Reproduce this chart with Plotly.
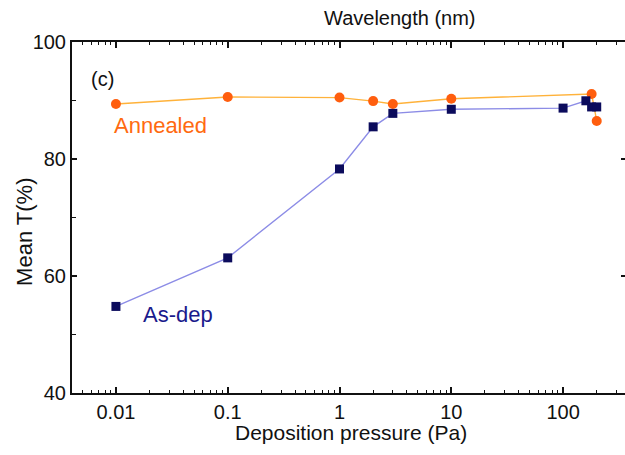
import numpy as np
import plotly.graph_objects as go

# Deposition pressure (Pa) and mean transmittance (%)
pressure_annealed = [0.01, 0.1, 1, 2, 3, 10, 180, 200]
t_annealed = [89.4, 90.6, 90.5, 89.9, 89.4, 90.3, 91.1, 86.5]

pressure_asdep = [0.01, 0.1, 1, 2, 3, 10, 100, 160, 180, 200]
t_asdep = [54.8, 63.1, 78.3, 85.5, 87.8, 88.5, 88.7, 89.95, 88.9, 88.9]

x_ticks = [0.01, 0.1, 1, 10, 100]
x_tick_labels = ["0.01", "0.1", "1", "10", "100"]
y_ticks = [40, 60, 80, 100]

x_range = [-2.393, 2.554]
y_range = [40, 100]

minor_x = [m * 10.0 ** e for e in range(-3, 3) for m in range(2, 10)]

FONT = "Liberation Sans, Arial, sans-serif"
INK = "#111111"

fig = go.Figure()

fig.add_trace(go.Scatter(
    x=pressure_annealed, y=t_annealed, mode="lines+markers",
    line=dict(color="#FFB23A", width=1.4),
    marker=dict(symbol="circle", size=10, color="#FF5E0E"),
    showlegend=False,
))
fig.add_trace(go.Scatter(
    x=pressure_asdep, y=t_asdep, mode="lines+markers",
    line=dict(color="#8C8CE6", width=1.4),
    marker=dict(symbol="square", size=9, color="#0B0B5C"),
    showlegend=False,
))

# Invisible trace carrying the mirrored top and right axes
fig.add_trace(go.Scatter(x=[1], y=[50], xaxis="x2", yaxis="y2",
                         mode="markers", marker=dict(opacity=0),
                         showlegend=False, hoverinfo="skip"))

tick_font = dict(family=FONT, size=20, color=INK)

fig.update_layout(
    width=625, height=455,
    margin=dict(l=72, r=0, t=42, b=62),
    paper_bgcolor="white", plot_bgcolor="white",
    font=dict(family=FONT, color=INK),
    xaxis=dict(
        type="log", range=x_range,
        tickvals=x_ticks, ticktext=x_tick_labels,
        ticks="inside", ticklen=6, tickwidth=1.5, tickcolor=INK,
        minor=dict(tickvals=minor_x, ticks="inside", ticklen=3,
                   tickwidth=1.2, tickcolor=INK, showgrid=False),
        showline=True, linewidth=2, linecolor=INK,
        showgrid=False, zeroline=False,
        tickfont=tick_font,
    ),
    yaxis=dict(
        range=y_range, tickvals=y_ticks,
        ticks="inside", ticklen=5, tickwidth=1.5, tickcolor=INK,
        minor=dict(dtick=10, ticks="inside", ticklen=4, tickwidth=1.2,
                   tickcolor=INK, showgrid=False),
        showline=True, linewidth=2, linecolor=INK,
        showgrid=False, zeroline=False,
        tickfont=tick_font,
    ),
    xaxis2=dict(
        type="log", range=x_range, overlaying="x", side="top",
        tickvals=x_ticks, showticklabels=False,
        ticks="inside", ticklen=6, tickwidth=1.5, tickcolor=INK,
        minor=dict(tickvals=minor_x, ticks="inside", ticklen=3,
                   tickwidth=1.2, tickcolor=INK, showgrid=False),
        showline=True, linewidth=2, linecolor=INK,
        showgrid=False, zeroline=False,
    ),
    yaxis2=dict(
        range=y_range, overlaying="y", side="right",
        tickvals=[60, 80], showticklabels=False,
        ticks="inside", ticklen=4, tickwidth=1.5, tickcolor=INK,
        showline=False, showgrid=False, zeroline=False,
    ),
    annotations=[
        dict(text="Wavelength (nm)", xref="paper", yref="paper",
             x=0.593, y=1.0, yshift=24, showarrow=False,
             xanchor="center", yanchor="middle",
             font=dict(family=FONT, size=20, color=INK)),
        dict(text="Deposition pressure (Pa)", xref="paper", yref="paper",
             x=0.5045, y=0.0, yshift=-39, showarrow=False,
             xanchor="center", yanchor="middle",
             font=dict(family=FONT, size=21, color=INK)),
        dict(text="Mean T(%)", xref="paper", yref="paper", textangle=-90,
             x=0.0, xshift=-47, y=0.459, showarrow=False,
             xanchor="center", yanchor="middle",
             font=dict(family=FONT, size=22, color=INK)),
        dict(text="(c)", xref="paper", yref="y", x=0.03, y=93.7,
             showarrow=False, xanchor="left", yanchor="middle",
             font=dict(family=FONT, size=20, color=INK)),
        dict(text="Annealed", xref="paper", yref="y", x=0.072, y=85.7,
             showarrow=False, xanchor="left", yanchor="middle",
             font=dict(family=FONT, size=22, color="#FF6A10")),
        dict(text="As-dep", xref="paper", yref="y", x=0.125, y=53.5,
             showarrow=False, xanchor="left", yanchor="middle",
             font=dict(family=FONT, size=22, color="#1A1A8C")),
    ],
)

fig.write_html("out.html")
